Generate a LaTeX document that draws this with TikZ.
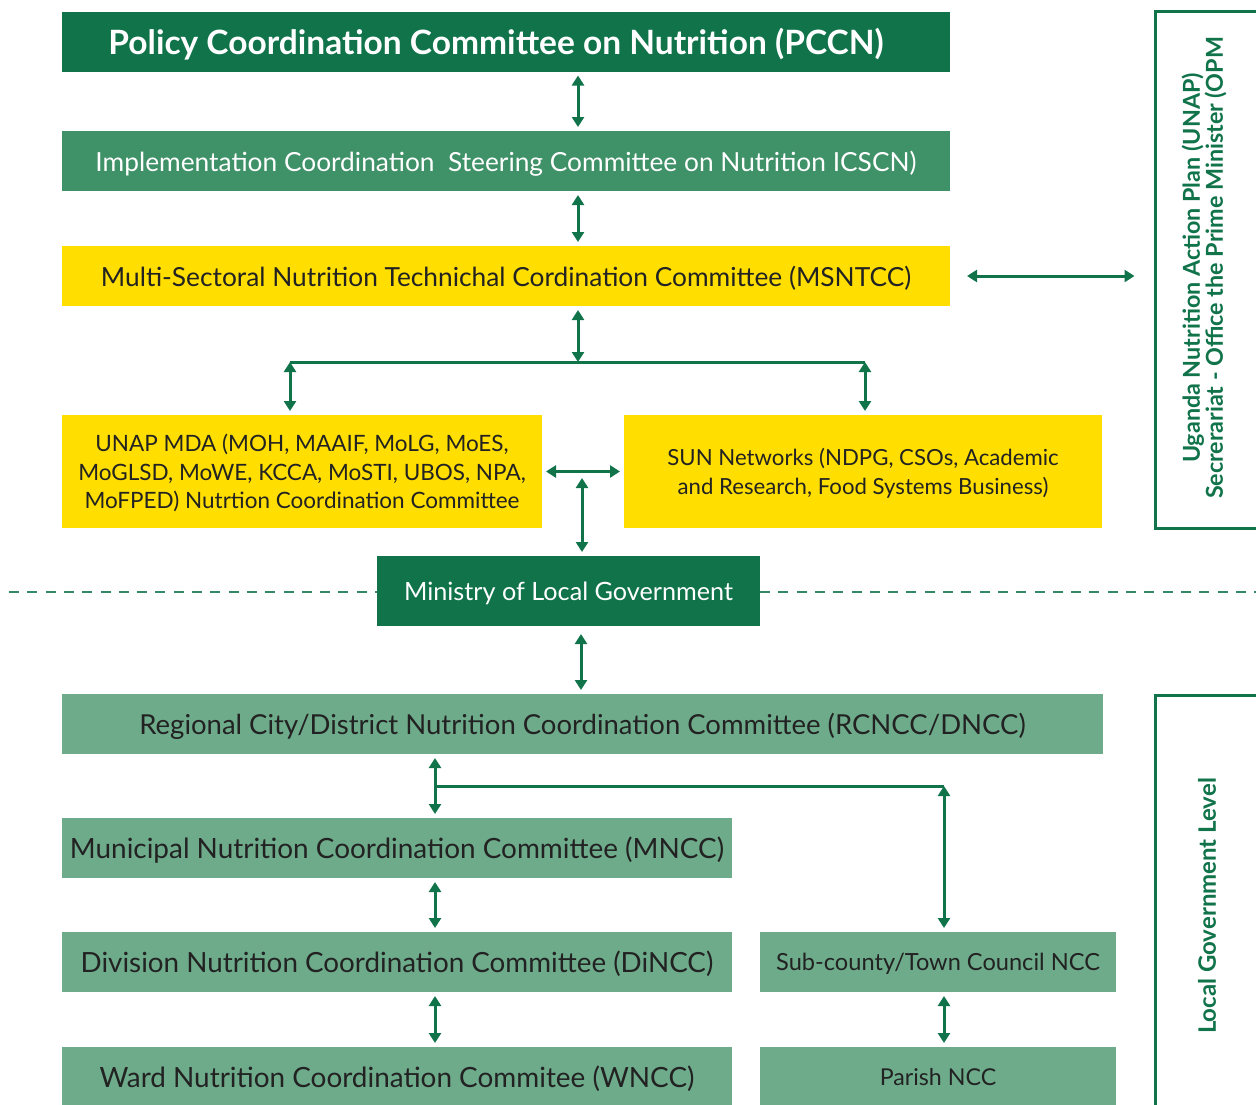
\documentclass[tikz,border=0pt]{standalone}
\usepackage{fontspec}
\setmainfont{Lato}
\usetikzlibrary{arrows.meta}
\definecolor{dkgreen}{HTML}{10734A}
\definecolor{mdgreen}{HTML}{3F9168}
\definecolor{ltgreen}{HTML}{6EAB8B}
\definecolor{ylw}{HTML}{FFDE00}
\definecolor{txtgray}{HTML}{222222}
\newcommand{\fsz}[2]{\fontsize{#1}{#2}\selectfont}
\begin{document}
\begin{tikzpicture}[x=1pt, y=-1pt,
  box/.style={rectangle, inner sep=0pt, outer sep=0pt, align=center, text depth=0pt},
  dkbox/.style={box, fill=dkgreen, text=white},
  mdbox/.style={box, fill=mdgreen, text=white},
  ylbox/.style={box, fill=ylw, text=txtgray},
  ltbox/.style={box, fill=ltgreen, text=txtgray},
  frame/.style={rectangle, draw=dkgreen, line width=3pt, inner sep=0pt},
  side/.style={text=dkgreen, align=center, rotate=90},
  arr/.style={draw=dkgreen, line width=3pt, {Triangle[length=10pt,width=12pt]}-{Triangle[length=10pt,width=12pt]}},
  link/.style={draw=dkgreen, line width=3pt},
  shorten >=4pt, shorten <=4pt]
\clip (0,0) rectangle (1256,1104);
\fill[white] (0,0) rectangle (1256,1104);
\node[dkbox, minimum width=888pt, minimum height=60pt, font=\bfseries\fsz{33.5}{38}] (pccn) at (506,41.5) {Policy Coordination Committee on Nutrition (PCCN)\hspace*{20pt}};
\node[mdbox, minimum width=888pt, minimum height=60pt, font=\fsz{26.3}{30}] (icscn) at (506,161) {Implementation Coordination~ Steering Committee on Nutrition ICSCN)};
\node[ylbox, minimum width=888pt, minimum height=60pt, font=\fsz{26.3}{30}] (msntcc) at (506,276) {Multi-Sectoral Nutrition Technichal Cordination Committee (MSNTCC)};
\node[ylbox, minimum width=480pt, minimum height=113pt, font=\fsz{22.5}{28.5}] (unap) at (302,471.5) {UNAP MDA (MOH, MAAIF, MoLG, MoES,\\MoGLSD, MoWE, KCCA, MoSTI, UBOS, NPA,\\MoFPED) Nutrtion Coordination Committee};
\node[ylbox, minimum width=478pt, minimum height=113pt, font=\fsz{22.2}{28.5}] (sun) at (863,471.5) {SUN Networks (NDPG, CSOs, Academic\\and Research, Food Systems Business)};
\node[dkbox, minimum width=383pt, minimum height=70pt, font=\fsz{25.2}{29}] (molg) at (568.5,591) {Ministry of Local Government};
\node[ltbox, minimum width=1041pt, minimum height=60pt, font=\fsz{27.5}{31}] (rcncc) at (582.5,724) {Regional City/District Nutrition Coordination Committee (RCNCC/DNCC)};
\node[ltbox, minimum width=670pt, minimum height=60pt, font=\fsz{27.9}{31}] (mncc) at (397,848) {Municipal Nutrition Coordination Committee (MNCC)};
\node[ltbox, minimum width=670pt, minimum height=60pt, font=\fsz{27.8}{31}] (dincc) at (397,962) {Division Nutrition Coordination Committee (DiNCC)};
\node[ltbox, minimum width=670pt, minimum height=60pt, font=\fsz{27.9}{31}] (wncc) at (397,1077) {Ward Nutrition Coordination Commitee (WNCC)};
\node[ltbox, minimum width=356pt, minimum height=60pt, font=\fsz{23.6}{27}] (subc) at (938,962) {Sub-county/Town Council NCC};
\node[ltbox, minimum width=356pt, minimum height=60pt, font=\fsz{23.2}{27}] (parish) at (938,1077) {Parish NCC};
\node[frame, minimum width=140pt, minimum height=517pt] (opm) at (1225,269.5) {};
\node[side, font=\bfseries\fsz{23.3}{23}] (opmtxt) at (1204,268) {Uganda Nutrition Action Plan (UNAP)\\Secrerariat - Office the Prime Minister (OPM};
\node[frame, minimum width=140pt, minimum height=460pt] (lgl) at (1225,925) {};
\node[side, font=\bfseries\fsz{24}{27}] (lgltxt) at (1207,906) {Local Government Level};
\coordinate (cx) at (578,0);
\coordinate (br) at (578,362);
\coordinate (brl) at (290,362);
\coordinate (brr) at (865,362);
\coordinate (mj) at (582,478);
\coordinate (cy) at (581,0);
\coordinate (lj) at (435,786);
\coordinate (rj) at (944,786);
\coordinate (dl) at (9,592);
\coordinate (dr) at (1262,592);
\draw[arr] (pccn.south -| cx) -- (icscn.north -| cx);
\draw[arr] (icscn.south -| cx) -- (msntcc.north -| cx);
\draw[arr, shorten <=17pt, shorten >=19pt] (msntcc.east) -- (opm.west |- msntcc.east);
\draw[arr, shorten >=0pt] (msntcc.south -| cx) -- (br);
\draw[link, shorten <=0pt, shorten >=0pt] (brl) -- (brr);
\draw[arr, shorten <=0pt] (brl) -- (unap.north -| brl);
\draw[arr, shorten <=0pt] (brr) -- (sun.north -| brr);
\draw[arr] (unap.east) -- (sun.west);
\draw[arr, shorten <=0pt] (mj) -- (molg.north -| mj);
\draw[dkgreen!85!white, line width=1.3pt, dash pattern=on 10pt off 8.3pt, shorten <=0pt, shorten >=0pt] (dl) -- (molg.west |- dl);
\draw[dkgreen!85!white, line width=1.3pt, dash pattern=on 10pt off 8.3pt, shorten <=0pt, shorten >=0pt] (molg.east |- dr) -- (dr);
\draw[arr, shorten <=8pt] (molg.south -| cy) -- (rcncc.north -| cy);
\draw[arr] (rcncc.south -| lj) -- (mncc.north -| lj);
\draw[link, shorten <=0pt, shorten >=0pt] (lj) -- (rj);
\draw[arr, shorten <=0pt] (rj) -- (subc.north -| rj);
\draw[arr] (mncc.south -| lj) -- (dincc.north -| lj);
\draw[arr] (dincc.south -| lj) -- (wncc.north -| lj);
\draw[arr] (subc.south -| rj) -- (parish.north -| rj);
\end{tikzpicture}
\end{document}
